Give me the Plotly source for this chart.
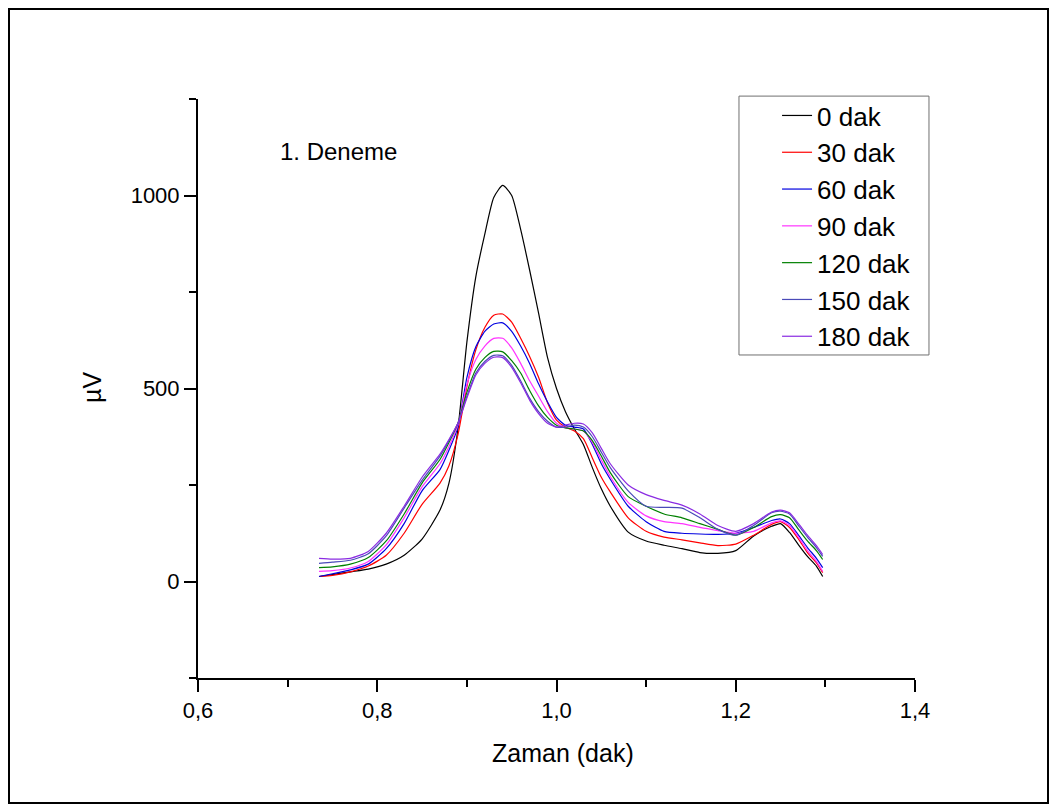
import plotly.graph_objects as go

# --- Data ---
zaman = [0.735, 0.75, 0.77, 0.79, 0.81, 0.83, 0.85, 0.87, 0.88, 0.89,
         0.90, 0.91, 0.92, 0.93, 0.94, 0.95, 0.96, 0.97, 0.98, 0.99,
         1.00, 1.01, 1.02, 1.03, 1.04, 1.05, 1.06, 1.08, 1.10, 1.12,
         1.14, 1.16, 1.18, 1.20, 1.22, 1.24, 1.25, 1.26, 1.27, 1.28,
         1.29, 1.297]

dak_0 = [13, 18, 25, 32, 45, 68, 110, 185, 255, 395,
         620, 790, 900, 995, 1026, 1000, 912, 807, 695, 580,
         500, 440, 395, 355, 295, 240, 195, 128, 105, 94,
         85, 75, 73, 80, 118, 143, 150, 127, 95, 65,
         40, 13]
dak_30 = [13, 16, 25, 40, 68, 125, 200, 255, 300, 380,
          505, 600, 658, 690, 693, 672, 630, 583, 529, 463,
          418, 400, 390, 370, 320, 270, 232, 165, 130, 115,
          108, 100, 93, 97, 120, 148, 155, 140, 110, 75,
          48, 23]
dak_60 = [13, 20, 30, 45, 85, 150, 235, 290, 340, 400,
          528, 608, 648, 667, 670, 648, 610, 565, 512, 465,
          425, 405, 400, 395, 355, 305, 265, 195, 155, 130,
          125, 123, 122, 125, 140, 158, 162, 150, 120, 88,
          60, 36]
dak_90 = [26, 28, 35, 52, 95, 165, 245, 305, 350, 405,
          510, 575, 610, 630, 630, 605, 565, 520, 480, 440,
          410, 398, 395, 390, 360, 315, 272, 205, 170, 155,
          150, 140, 132, 125, 130, 152, 157, 145, 115, 80,
          52, 26]
dak_120 = [36, 38, 45, 62, 105, 175, 255, 316, 360, 410,
           490, 550, 580, 596, 595, 572, 540, 495, 455, 425,
           405, 398, 395, 390, 365, 325, 282, 220, 195, 175,
           165, 150, 135, 120, 140, 168, 173, 165, 135, 105,
           80, 57]
dak_150 = [47, 50, 55, 72, 118, 190, 262, 325, 365, 410,
           480, 540, 570, 586, 585, 560, 520, 475, 440, 415,
           400, 400, 405, 400, 375, 335, 295, 235, 195, 192,
           190, 165, 135, 120, 145, 178, 182, 175, 145, 115,
           88, 65]
dak_180 = [60, 58, 60, 78, 125, 195, 270, 330, 368, 410,
           475, 535, 565, 581, 580, 555, 515, 470, 435, 410,
           400, 405, 410, 408, 385, 345, 305, 250, 225, 210,
           198, 175, 145, 130, 150, 180, 185, 178, 150, 120,
           93, 70]

seriler = ["0 dak", "30 dak", "60 dak", "90 dak", "120 dak", "150 dak", "180 dak"]
degerler = [dak_0, dak_30, dak_60, dak_90, dak_120, dak_150, dak_180]
renkler = ["#000000", "#ff0000", "#0000e0", "#ff33ff", "#008000", "#4a4ab8", "#8a2be2"]

# --- Figure ---
fig = go.Figure()
for ad, y, renk in zip(seriler, degerler, renkler):
    fig.add_trace(go.Scatter(x=zaman, y=y, mode="lines", name=ad,
                             legendgroup=ad,
                             line=dict(color=renk, width=1.2, shape="spline", smoothing=0.6)))

font_ad = "Liberation Sans, Arial, sans-serif"

fig.update_layout(
    width=1041, height=796,
    margin=dict(l=190, r=134, t=91, b=126),
    paper_bgcolor="white", plot_bgcolor="white",
    separators=",.",
    font=dict(family=font_ad, color="black", size=22),
    showlegend=True,
    # legend frame is drawn as a shape below so it can be as wide as the original
    legend=dict(x=0.8076, y=1.012, xanchor="left", yanchor="top",
                borderwidth=0, bgcolor="rgba(0,0,0,0)",
                font=dict(size=26), tracegroupgap=2, traceorder="normal"),
    annotations=[
        dict(x=0.689, y=1114, xref="x", yref="y", text="1. Deneme",
             showarrow=False, xanchor="left", yanchor="middle",
             font=dict(size=24)),
        dict(x=0.509, y=-0.1295, xref="paper", yref="paper", text="Zaman (dak)",
             showarrow=False, xanchor="center", yanchor="middle",
             font=dict(size=25)),
        dict(x=-0.148, y=0.5026, xref="paper", yref="paper", text="µV",
             showarrow=False, xanchor="center", yanchor="middle", textangle=-90,
             font=dict(size=25)),
    ],
    shapes=[
        dict(type="rect", xref="paper", yref="paper",
             x0=-0.2636, x1=1.1855, y0=-0.2159, y1=1.1554,
             line=dict(color="black", width=2)),
        dict(type="rect", xref="paper", yref="paper",
             x0=0.7545, x1=1.0195, y0=0.5579, y1=1.005,
             line=dict(color="#707070", width=1)),
    ],
)

fig.update_xaxes(range=[0.6, 1.4], dtick=0.2, tick0=0.6, tickformat=".1f",
                 showgrid=False, zeroline=False,
                 showline=True, linecolor="black", linewidth=2,
                 ticks="outside", ticklen=12, tickwidth=2, tickcolor="black",
                 tickfont=dict(size=22),
                 minor=dict(ticks="outside", dtick=0.1, ticklen=7, tickwidth=2, tickcolor="black"))
fig.update_yaxes(range=[-250, 1250], dtick=500, tick0=0,
                 showgrid=False, zeroline=False,
                 showline=True, linecolor="black", linewidth=2,
                 ticks="outside", ticklen=12, tickwidth=2, tickcolor="black",
                 tickfont=dict(size=22),
                 minor=dict(ticks="outside", dtick=250, ticklen=7, tickwidth=2, tickcolor="black"))

fig.write_html("out.html")
